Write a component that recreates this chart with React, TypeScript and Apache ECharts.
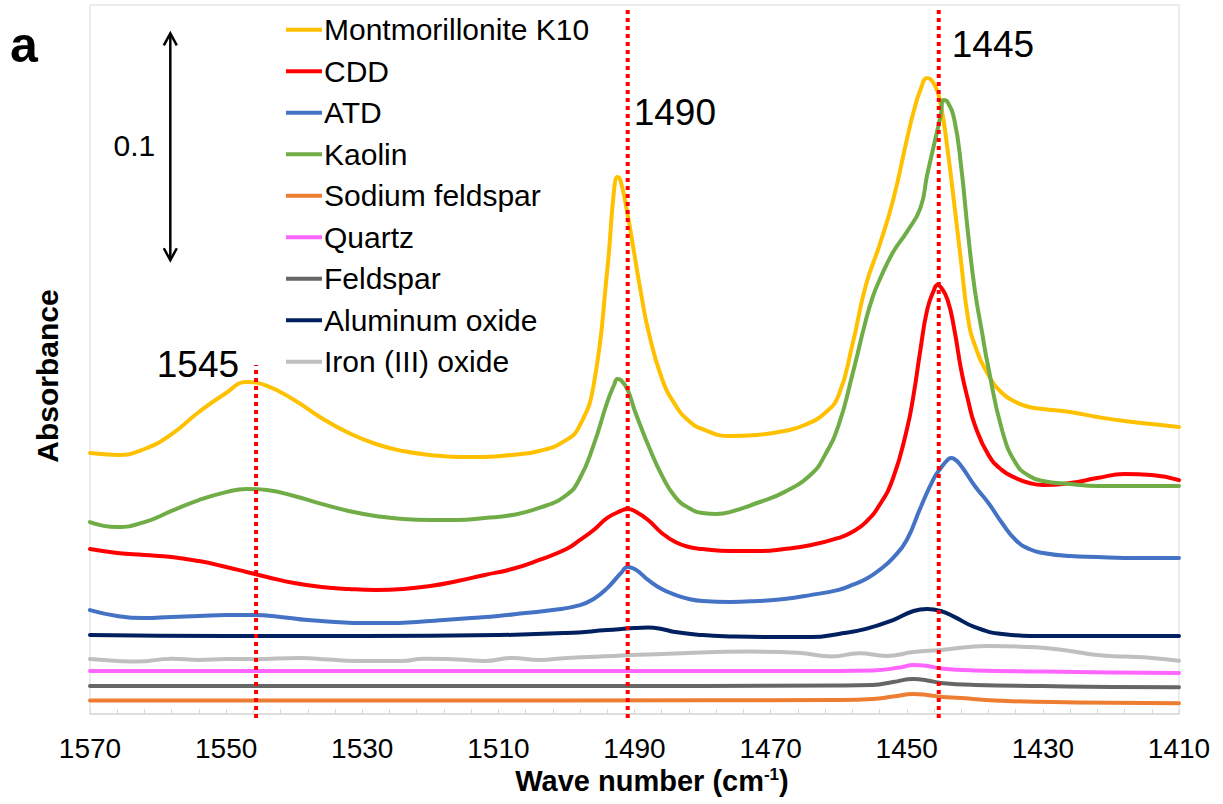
import React, { useEffect, useRef } from "react";
import * as echarts from "echarts";

// ---------- data (wavenumber in cm-1, absorbance offset-stacked as in figure) ----------
const MONT_W = [1570,1566,1562,1558,1554,1550,1547,1544,1540,1536,1532,1528,1524,1520,1516,1512,1508,1504,1500,1498,1496,1494,1493,1492.5,1492,1491,1490,1489,1488,1486,1484,1482,1480,1476,1472,1468,1465,1462,1460,1458,1456,1454,1452,1450,1449,1448,1447,1446,1445,1444,1443,1442,1441,1440,1438,1436,1434,1432,1430,1426,1422,1418,1414,1410];
const MONT_A = [0.1150,0.1142,0.1168,0.1234,0.1331,0.1415,0.1463,0.1446,0.1384,0.1305,0.1239,0.1190,0.1159,0.1142,0.1133,0.1133,0.1142,0.1159,0.1208,0.1274,0.1450,0.1957,0.2310,0.2367,0.2345,0.2199,0.2023,0.1847,0.1693,0.1481,0.1362,0.1291,0.1256,0.1225,0.1230,0.1247,0.1274,0.1327,0.1406,0.1626,0.1891,0.2067,0.2266,0.2530,0.2653,0.2750,0.2803,0.2777,0.2684,0.2486,0.2243,0.1988,0.1745,0.1626,0.1494,0.1415,0.1375,0.1353,0.1344,0.1331,0.1309,0.1291,0.1278,0.1265];

const CDD_W = [1570,1566,1562,1558,1554,1550,1547,1544,1540,1536,1532,1528,1524,1520,1516,1512,1508,1504,1500,1498,1496,1494,1492,1491,1490,1488,1486,1484,1482,1480,1476,1472,1468,1464,1460,1458,1456,1454,1452,1450,1449,1448,1447,1446,1445.5,1445,1444,1443,1442,1441,1440,1438,1436,1434,1432,1430,1426,1422,1418,1414,1410];
const CDD_A = [0.0727,0.0710,0.0701,0.0692,0.0674,0.0648,0.0626,0.0604,0.0577,0.0560,0.0551,0.0547,0.0551,0.0564,0.0586,0.0613,0.0639,0.0679,0.0727,0.0767,0.0811,0.0864,0.0895,0.0904,0.0895,0.0855,0.0798,0.0758,0.0736,0.0727,0.0718,0.0718,0.0727,0.0745,0.0776,0.0802,0.0846,0.0921,0.1040,0.1252,0.1406,0.1604,0.1781,0.1869,0.1891,0.1882,0.1825,0.1693,0.1516,0.1384,0.1274,0.1142,0.1075,0.1040,0.1018,0.1009,0.1018,0.1040,0.1058,0.1053,0.1031];

const ATD_W = [1570,1566,1562,1558,1554,1550,1546,1542,1538,1534,1530,1526,1522,1518,1514,1510,1506,1502,1498,1496,1494,1492,1491,1490,1489,1488,1486,1484,1482,1480,1476,1472,1468,1464,1460,1458,1456,1454,1452,1450,1448,1446,1445,1444,1443.5,1443,1442,1440,1438,1436,1434,1432,1430,1426,1422,1418,1414,1410];
const ATD_A = [0.0458,0.0432,0.0423,0.0428,0.0432,0.0436,0.0436,0.0428,0.0414,0.0406,0.0401,0.0401,0.0406,0.0414,0.0423,0.0432,0.0445,0.0458,0.0480,0.0507,0.0555,0.0621,0.0648,0.0639,0.0617,0.0591,0.0551,0.0525,0.0507,0.0498,0.0494,0.0498,0.0507,0.0525,0.0547,0.0569,0.0595,0.0635,0.0688,0.0767,0.0908,0.1040,0.1084,0.1120,0.1128,0.1124,0.1093,0.1005,0.0930,0.0842,0.0767,0.0727,0.0710,0.0696,0.0692,0.0688,0.0688,0.0688];

const KAOLIN_W = [1570,1566,1562,1558,1554,1550,1547,1544,1540,1536,1532,1528,1524,1520,1516,1512,1508,1504,1500,1498,1496,1494,1493,1492.5,1492,1491,1490,1489,1488,1486,1484,1482,1480,1478,1476,1472,1468,1464,1462,1460,1458,1456,1455,1454,1452,1450,1448,1447,1446,1445,1444.6,1444,1443,1442,1441,1440,1439,1438,1436,1434,1432,1430,1426,1422,1418,1414,1410];
const KAOLIN_A = [0.0846,0.0824,0.0846,0.0895,0.0943,0.0978,0.0992,0.0987,0.0961,0.0926,0.0895,0.0873,0.0859,0.0855,0.0855,0.0864,0.0877,0.0908,0.0965,0.1040,0.1186,0.1375,0.1450,0.1477,0.1472,0.1428,0.1340,0.1261,0.1186,0.1053,0.0956,0.0908,0.0886,0.0882,0.0890,0.0930,0.0978,0.1058,0.1142,0.1274,0.1494,0.1737,0.1838,0.1913,0.2036,0.2124,0.2230,0.2376,0.2508,0.2640,0.2706,0.2697,0.2618,0.2411,0.2120,0.1869,0.1693,0.1525,0.1252,0.1106,0.1049,0.1027,0.1014,0.1005,0.1005,0.1005,0.1005];

const NAFELD_W = [1570,1500,1460,1455,1452,1449,1447,1445,1442,1437,1425,1410];
const NAFELD_A = [0.0059,0.0060,0.0062,0.0066,0.0077,0.0088,0.0084,0.0076,0.0071,0.0059,0.0051,0.0047];

const QUARTZ_W = [1570,1500,1460,1455,1451,1449,1447,1445,1440,1430,1420,1410];
const QUARTZ_A = [0.0190,0.0190,0.0190,0.0192,0.0205,0.0216,0.0212,0.0201,0.0192,0.0187,0.0183,0.0181];

const FELD_W = [1570,1500,1460,1455,1452,1449,1447,1445,1440,1430,1420,1410];
const FELD_A = [0.0123,0.0123,0.0126,0.0128,0.0141,0.0154,0.0148,0.0137,0.0128,0.0123,0.0119,0.0118];

const ALOX_W = [1570,1550,1530,1510,1500,1494,1490,1488,1486,1484,1480,1476,1470,1464,1460,1456,1452,1449,1447,1445,1443,1440,1436,1430,1420,1410];
const ALOX_A = [0.0348,0.0344,0.0344,0.0348,0.0357,0.0370,0.0379,0.0381,0.0375,0.0361,0.0348,0.0342,0.0339,0.0339,0.0353,0.0375,0.0414,0.0454,0.0463,0.0454,0.0428,0.0383,0.0353,0.0344,0.0344,0.0344];

const FEOX_W = [1570,1566,1563,1558,1554,1550,1546,1539,1535,1531,1524,1521,1516,1512,1508,1504,1500,1493,1484,1473,1466,1461,1457,1453,1449,1445,1438,1431,1426,1422,1418,1414,1410];
const FEOX_A = [0.0242,0.0234,0.0231,0.0244,0.0238,0.0242,0.0242,0.0247,0.0240,0.0234,0.0234,0.0244,0.0240,0.0234,0.0247,0.0238,0.0247,0.0256,0.0267,0.0275,0.0270,0.0253,0.0268,0.0256,0.0273,0.0282,0.0300,0.0294,0.0278,0.0260,0.0253,0.0247,0.0235];

const X_TICKS_START = 1570; // left end of axis (axis runs 1570 -> 1410)
const X_TICKS_END = 1410;
const X_TICK_STEP = 20;

const PEAK_W = [1545.6, 1491, 1445.3];
const PEAK_LABELS = ["1545", "1490", "1445"];
const PEAK_BOTTOM_A = -0.0018;
const PEAK_TOP_A = [0.1538, 0.3103, 0.3103];
const PEAK_LABEL_A = [0.1542, 0.2653, 0.2949];

const SCALE_BAR_W = 1558.2;
const SCALE_BAR_A = [0.2, 0.3];
const SCALE_BAR_LABEL = "0.1";

const SERIES = [
  { name: "Montmorillonite K10", color: "#FFC000", w: MONT_W, a: MONT_A },
  { name: "CDD", color: "#FF0000", w: CDD_W, a: CDD_A },
  { name: "ATD", color: "#4472C4", w: ATD_W, a: ATD_A },
  { name: "Kaolin", color: "#70AD47", w: KAOLIN_W, a: KAOLIN_A },
  { name: "Sodium feldspar", color: "#ED7D31", w: NAFELD_W, a: NAFELD_A },
  { name: "Quartz", color: "#FF66FF", w: QUARTZ_W, a: QUARTZ_A },
  { name: "Feldspar", color: "#666666", w: FELD_W, a: FELD_A },
  { name: "Aluminum oxide", color: "#002060", w: ALOX_W, a: ALOX_A },
  { name: "Iron (III) oxide", color: "#BFBFBF", w: FEOX_W, a: FEOX_A },
];

const FONT = "'Liberation Sans', Arial, Helvetica, sans-serif";
const toU = (w: number) => X_TICKS_START - w;

export default function App() {
  const ref = useRef<HTMLDivElement>(null);

  useEffect(() => {
    document.body.style.margin = "0";
    if (!ref.current) return;
    const chart = echarts.init(ref.current, undefined, { renderer: "svg" });

    const series: any[] = SERIES.map((s) => ({
      name: s.name,
      type: "line",
      color: s.color,
      showSymbol: false,
      symbol: "none",
      smooth: 0.5,
      lineStyle: { width: 4, color: s.color, cap: "round", join: "round" },
      data: s.w.map((w, i) => [toU(w), s.a[i]]),
      silent: true,
    }));

    chart.setOption({
      animation: false,
      grid: {
        left: 90,
        right: 44,
        top: 5,
        bottom: 90,
        show: true,
        borderColor: "#D9D9D9",
        borderWidth: 1,
        backgroundColor: "transparent",
      },
      xAxis: {
        type: "value",
        min: 0,
        max: X_TICKS_START - X_TICKS_END,
        interval: X_TICK_STEP,
        axisLine: { show: true, lineStyle: { color: "#D9D9D9", width: 1.5 } },
        axisTick: { show: true, inside: true, length: 5, lineStyle: { color: "#D9D9D9" } },
        minorTick: { show: true, splitNumber: 5, length: 5, lineStyle: { color: "#D9D9D9" } },
        splitLine: { show: false },
        axisLabel: {
          formatter: (u: number) => String(X_TICKS_START - u),
          fontSize: 28,
          color: "#000",
          margin: 20,
          fontFamily: FONT,
        },
      },
      yAxis: { type: "value", min: 0, max: 0.3125, show: false },
      legend: {
        orient: "vertical",
        left: 286,
        top: 14.7,
        padding: 0,
        itemWidth: 36,
        itemHeight: 4,
        itemGap: 11.5,
        icon: "rect",
        selectedMode: false,
        data: SERIES.map((s) => s.name),
        textStyle: { fontSize: 30, lineHeight: 30, color: "#000", fontFamily: FONT, padding: [0, 0, 0, -3] },
      },
      series,
    });

    const px = (w: number, a: number) =>
      chart.convertToPixel({ xAxisIndex: 0, yAxisIndex: 0 }, [toU(w), a]) as number[];

    const top = px(SCALE_BAR_W, SCALE_BAR_A[1]);
    const bot = px(SCALE_BAR_W, SCALE_BAR_A[0]);
    const ax = top[0];
    const graphics: any[] = [
      { type: "line", shape: { x1: ax, y1: top[1] + 1, x2: ax, y2: bot[1] - 1 }, style: { stroke: "#000", lineWidth: 2.5 } },
      { type: "polyline", shape: { points: [[ax - 6.5, top[1] + 12], [ax, top[1]], [ax + 6.5, top[1] + 12]] }, style: { stroke: "#000", lineWidth: 2.5, fill: null } },
      { type: "polyline", shape: { points: [[ax - 6.5, bot[1] - 12], [ax, bot[1]], [ax + 6.5, bot[1] - 12]] }, style: { stroke: "#000", lineWidth: 2.5, fill: null } },
      {
        type: "text",
        x: ax - 15,
        y: (top[1] + bot[1]) / 2 - 1.5,
        style: { text: SCALE_BAR_LABEL, fontSize: 30, fontFamily: FONT, fill: "#000", textAlign: "right", textVerticalAlign: "middle" },
      },
      {
        type: "text",
        x: 10,
        y: 45,
        style: { text: "a", fontSize: 50, fontWeight: "bold", fontFamily: FONT, fill: "#000", textAlign: "left", textVerticalAlign: "middle" },
      },
      {
        type: "text",
        x: 47,
        y: 376,
        rotation: Math.PI / 2,
        style: { text: "Absorbance", fontSize: 30, fontWeight: "bold", fontFamily: FONT, fill: "#000", textAlign: "center", textVerticalAlign: "middle" },
      },
      {
        type: "text",
        x: 652,
        y: 781,
        style: {
          text: "Wave number (cm{sup|-1})",
          fontSize: 29,
          fontWeight: "bold",
          fontFamily: FONT,
          fill: "#000",
          textAlign: "center",
          textVerticalAlign: "middle",
          rich: {
            sup: { fontSize: 17, fontWeight: "bold", fontFamily: FONT, fill: "#000", verticalAlign: "top", lineHeight: 30 },
          },
        },
      },
    ];

    // red dotted peak markers, positioned through the axes
    PEAK_W.forEach((w, i) => {
      const p0 = px(w, PEAK_BOTTOM_A);
      const p1 = px(w, PEAK_TOP_A[i]);
      graphics.push({
        type: "line",
        z: 100,
        shape: { x1: p0[0], y1: p0[1], x2: p1[0], y2: p1[1] },
        style: { stroke: "#FF0000", lineWidth: 4, lineDash: [4, 4], lineCap: "butt" },
      });
    });

    const labelOffsets = [-17, 6, 13];
    PEAK_W.forEach((w, i) => {
      const p = px(w, PEAK_LABEL_A[i]);
      graphics.push({
        type: "text",
        x: p[0] + labelOffsets[i],
        y: p[1],
        style: {
          text: PEAK_LABELS[i],
          fontSize: 37,
          fontFamily: FONT,
          fill: "#000",
          textAlign: labelOffsets[i] < 0 ? "right" : "left",
          textVerticalAlign: "middle",
        },
      });
    });

    chart.setOption({ graphic: graphics });

    return () => chart.dispose();
  }, []);

  return <div ref={ref} style={{ width: 1223, height: 804 }} />;
}
